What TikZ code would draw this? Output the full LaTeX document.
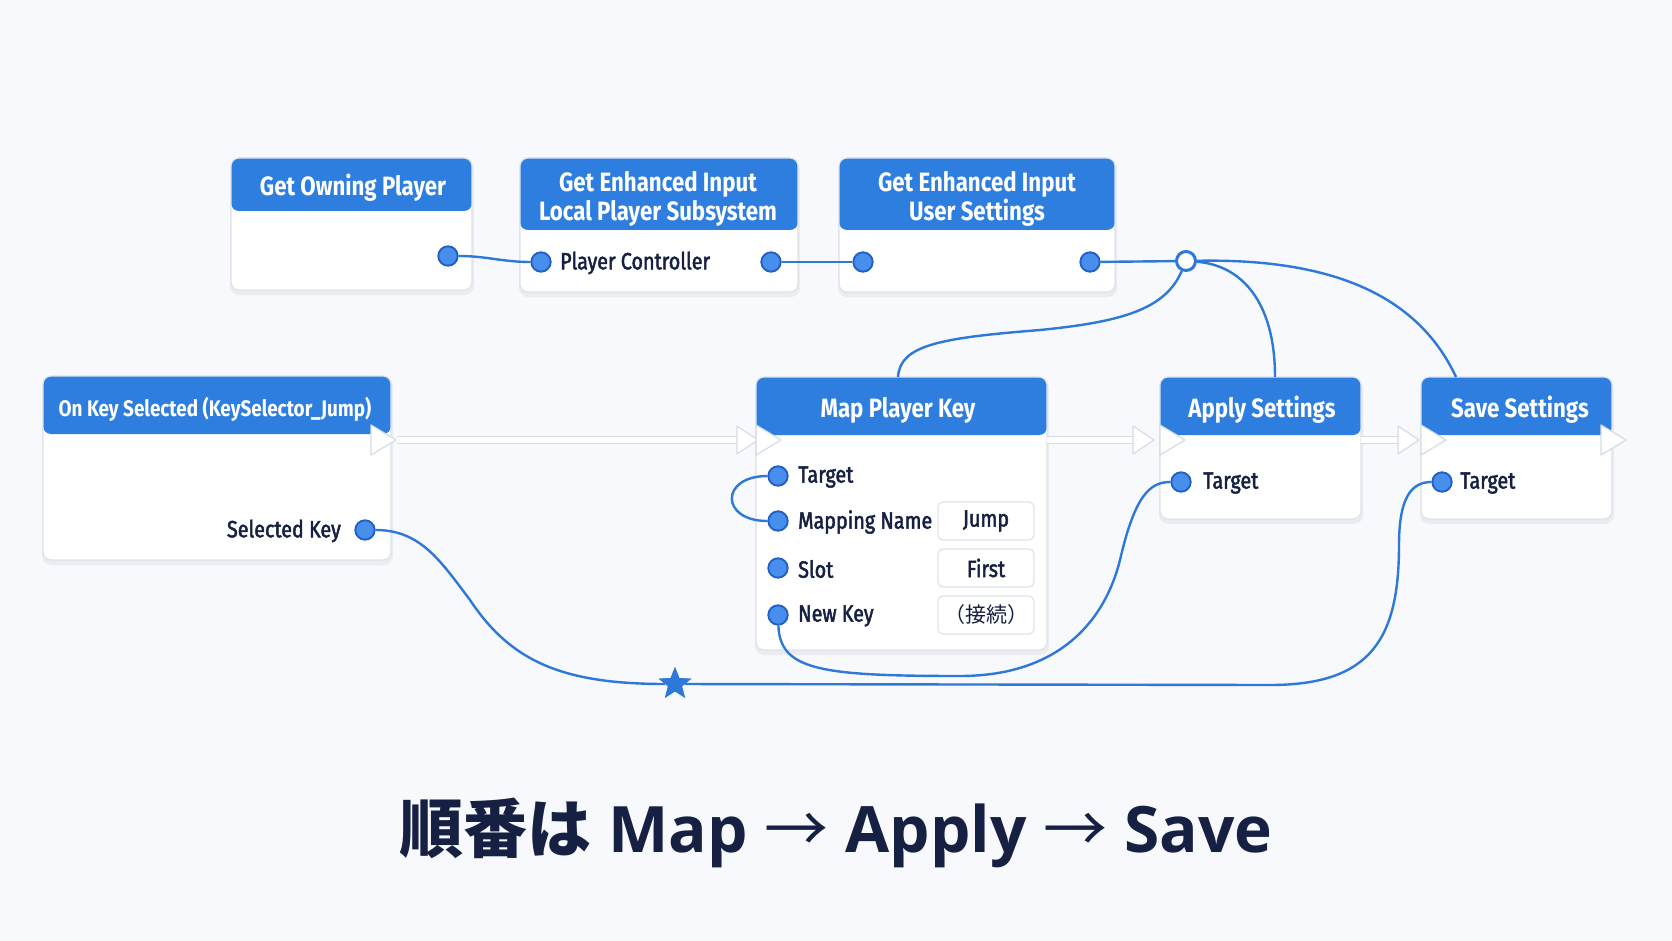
\documentclass[tikz,border=0pt]{standalone}
\usepackage{fontspec}
\usetikzlibrary{shapes.geometric,fit}
\setmainfont{Fira Sans}
\newfontfamily\condf[FakeStretch=0.84]{Fira Sans}
\newfontfamily\labf[FakeStretch=0.84,FakeBold=2]{Fira Sans}
\newfontfamily\cjkf{Noto Sans CJK JP}
\newfontfamily\capf{Open Sans}
\definecolor{bgc}{RGB}{247,249,252}
\definecolor{hdrblue}{RGB}{46,126,224}
\definecolor{wireblue}{RGB}{45,120,216}
\definecolor{pinfill}{RGB}{72,142,236}
\definecolor{pinedge}{RGB}{34,96,198}
\definecolor{boxline}{RGB}{222,227,234}
\definecolor{navy}{RGB}{22,32,66}
\definecolor{execedge}{RGB}{214,220,228}
\tikzset{
  blk/.style={rectangle, draw=boxline, line width=1.2pt, fill=white, rounded corners=8pt, inner sep=0pt},
  hdr/.style={path picture={\fill[hdrblue] (path picture bounding box.north west) rectangle ([yshift=-#1pt]path picture bounding box.north east);}},
  ttl/.style={text=white, font=\condf\bfseries\fontsize{26.5}{28.5}\selectfont, align=center, inner sep=0pt},
  lbl/.style={text=navy, font=\labf\fontsize{23.5}{27}\selectfont, inner sep=0pt},
  pin/.style={circle, fill=pinfill, draw=pinedge, line width=1.3pt, minimum size=20pt, inner sep=0pt},
  reroute/.style={circle, fill=white, draw=wireblue, line width=2pt, minimum size=20pt, inner sep=0pt},
  wire/.style={draw=wireblue, line width=2.4pt},
  valbox/.style={rectangle, draw=boxline, line width=1.2pt, fill=white, rounded corners=5pt, minimum width=96pt, minimum height=38pt, text=navy, font=\labf\fontsize{23.5}{27}\selectfont},
  execout/.style={draw=execedge, line width=8pt},
  execin/.style={draw=white, line width=5.5pt},
  exectri/.style={fill=white, draw=execedge, line width=1.2pt, line join=round},
  shd/.style={fill=black, opacity=0.05, rounded corners=9pt},
  starshape/.style={star, star points=5, star point ratio=2.3, fill=wireblue, minimum size=34pt, inner sep=0pt}
}
\newcommand\ueblock[6]{%
  \fill[shd] (#2-1,#3+2) rectangle (#4+2,#5+5);
  \node[blk, hdr=#6, fit={(#2,#3)(#4,#5)}] (#1) {};
}
\newcommand\exectriangle[2]{%
  \draw[exectri] (#1,#2-15) -- (#1+25,#2) -- (#1,#2+15) -- cycle;
}
\newcommand\execarrow[3]{% x1 x2(tip) y
  \draw[execout] (#1,#3) -- (#2-18,#3);
  \draw[execin] (#1,#3) -- (#2-17,#3);
  \draw[exectri] (#2-21,#3-14) -- (#2,#3) -- (#2-21,#3+14) -- cycle;
}
\begin{document}
\begin{tikzpicture}[x=1pt,y=-1pt]
\fill[bgc] (0,0) rectangle (1672,941);
\useasboundingbox (0,0) rectangle (1672,941);

% blocks
\ueblock{gop}{231}{158}{472}{290}{53}
\ueblock{sub}{520}{158}{798}{292}{72}
\ueblock{ius}{839}{158}{1115}{292}{72}
\ueblock{oks}{43}{376}{391}{560}{58}
\ueblock{mpk}{756}{377}{1047}{650}{58}
\ueblock{app}{1160}{377}{1361}{519}{58}
\ueblock{sav}{1421}{377}{1612}{519}{58}

% titles
\node[ttl] (gop-title) at (353,188) {Get Owning Player};
\node[ttl] (sub-title) at (658,199) {Get Enhanced Input\\Local Player Subsystem};
\node[ttl] (ius-title) at (977,199) {Get Enhanced Input\\User Settings};
\node[ttl, font=\condf\bfseries\fontsize{22.5}{26}\selectfont] (oks-title) at (215,409) {On Key Selected (KeySelector\_Jump)};
\node[ttl] (mpk-title) at (898,410) {Map Player Key};
\node[ttl] (app-title) at (1262,410) {Apply Settings};
\node[ttl] (sav-title) at (1520,410) {Save Settings};

% exec flow
\execarrow{397}{758}{440}
\execarrow{1047}{1154}{440}
\execarrow{1361}{1419}{440}
\exectriangle{371}{440}
\exectriangle{756}{440}
\exectriangle{1160}{440}
\exectriangle{1421}{440}
\exectriangle{1601}{440}

% pins
\node[pin] (gop-o) at (448,256) {};
\node[pin] (sub-i) at (541,262) {};
\node[pin] (sub-o) at (771,262) {};
\node[pin] (ius-i) at (863,262) {};
\node[pin] (ius-o) at (1090,262) {};
\node[reroute] (rr) at (1186,261) {};
\node[pin] (oks-k) at (365,530) {};
\node[pin] (mpk-t) at (778,476) {};
\node[pin] (mpk-m) at (778,521) {};
\node[pin] (mpk-s) at (778,568) {};
\node[pin] (mpk-k) at (778,615) {};
\node[pin] (app-t) at (1181,482) {};
\node[pin] (sav-t) at (1442,482) {};
\node[starshape] (star) at (675,684) {};

\coordinate (mpk-top) at (898,377);
\coordinate (app-top) at (1275,377);
\coordinate (sav-top) at (1456,377);

% labels
\node[lbl, anchor=west] (sub-il) at (560,263) {Player Controller};
\node[lbl, anchor=east] (oks-kl) at (341,531) {Selected Key};
\node[lbl, anchor=west] (mpk-tl) at (798,477) {Target};
\node[lbl, anchor=west] (mpk-ml) at (798,522) {Mapping Name};
\node[lbl, anchor=west] (mpk-sl) at (798,569) {Slot};
\node[lbl, anchor=west] (mpk-kl) at (798,616) {New Key};
\node[lbl, anchor=west] (app-tl) at (1203,483) {Target};
\node[lbl, anchor=west] (sav-tl) at (1460,483) {Target};

\node[valbox] (v-jump) at (986,521) {Jump};
\node[valbox] (v-first) at (986,568) {First};
\node[valbox] (v-key) at (986,615) {{\cjkf\fontsize{21}{25}\selectfont （接続）}};

% wires
\draw[wire] (gop-o) to[out=0,in=180] (sub-i);
\draw[wire] (sub-o) -- (ius-i);
\draw[wire] (ius-o) -- (rr);
\draw[wire] (rr) .. controls (1165,310) and (1120,322) .. (1040,330) .. controls (940,338) and (900,345) .. (mpk-top);
\draw[wire] (rr) .. controls (1240,265) and (1275,300) .. (app-top);
\draw[wire] (rr) .. controls (1340,258) and (1420,300) .. (sav-top);
\draw[wire] (mpk-t) .. controls (720,476) and (720,521) .. (mpk-m);
\draw[wire] (oks-k) .. controls (420,530) and (440,560) .. (470,600) .. controls (510,660) and (560,684) .. (star);
\draw[wire] (star) -- (1270,685) .. controls (1370,685) and (1399,640) .. (1399,545) .. controls (1399,500) and (1410,482) .. (sav-t);
\draw[wire] (mpk-k) .. controls (780,670) and (820,676) .. (960,676) .. controls (1060,676) and (1105,620) .. (1120,560) .. controls (1135,495) and (1150,482) .. (app-t);

% pins drawn again over the wires
\foreach \p in {gop-o,sub-i,sub-o,ius-i,ius-o,oks-k,mpk-t,mpk-m,mpk-s,mpk-k,app-t,sav-t}{
  \fill[pinfill] (\p) circle (9.4pt);
  \draw[pinedge, line width=1.3pt] (\p) circle (9.4pt);
}
\fill[white] (rr) circle (9pt);
\draw[wireblue, line width=2pt] (rr) circle (9pt);
\node[starshape] (star-top) at (675,684) {};

% caption
\node[anchor=base, text=navy, inner sep=0pt] (caption) at (836,852)
  {\fontsize{64}{70}\selectfont{\cjkf\bfseries 順番は} {\capf\bfseries Map} {\cjkf →} {\capf\bfseries Apply} {\cjkf →} {\capf\bfseries Save}};
\end{tikzpicture}
\end{document}
